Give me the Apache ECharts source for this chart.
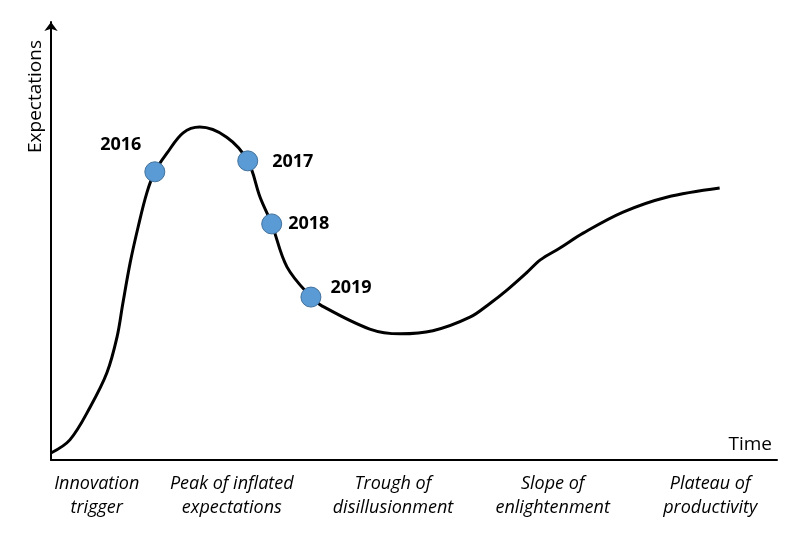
<!DOCTYPE html>
<html lang="en">
<head>
    <meta charset="utf-8">
    <title>Hype cycle</title>
    <script src="https://cdn.jsdelivr.net/npm/echarts@6/dist/echarts.min.js"></script>
    <style>
        html, body { margin: 0; padding: 0; background: #fff; }
        #chart { width: 800px; height: 545px; }
    </style>
</head>
<body>
<div id="chart"></div>
<script type="text/javascript">
  // curve (time 0-100, expectations 0-100)
  const curveX = [0, 2.6, 5.4, 7.7, 9.1, 9.9, 10.9, 12.0, 13.2, 14.3, 16.0, 18.2, 20.5, 24.2, 27.1, 28.8, 30.4, 32.5, 35.8, 37.3, 43.9, 48.1, 52.6, 57.7, 60.5, 62.8, 65.6, 67.4, 70.1, 73.3, 78.8, 84.8, 92.1];
  const curveY = [1.6, 4.6, 12.1, 19.9, 28.1, 35.8, 45.0, 53.2, 61.0, 65.8, 70.1, 74.7, 76.0, 73.7, 68.3, 60.0, 53.9, 44.1, 37.2, 35.2, 29.9, 28.8, 29.5, 32.6, 35.8, 38.8, 42.9, 45.7, 48.4, 51.8, 56.6, 60.0, 62.1];

  // yearly milestones on the curve
  const years = ['2016', '2017', '2018', '2019'];
  const yearX = [14.3, 27.1, 30.4, 35.8];
  const yearY = [65.8, 68.3, 53.9, 37.2];

  // phases along the time axis
  const phaseX = [6.3, 24.9, 47.1, 69.1, 90.8];
  const phaseNames = ['Innovation\ntrigger', 'Peak of inflated\nexpectations', 'Trough of\ndisillusionment', 'Slope of\nenlightenment', 'Plateau of\nproductivity'];

  const font = '"Open Sans", "Liberation Sans", sans-serif';

  // where each year label sits next to its dot
  const yearLabel = {
      '2016': { position: 'left', distance: 3, offset: [0, -27] },
      '2017': { position: 'right', distance: 14, offset: [0, 1] },
      '2018': { position: 'right', distance: 6, offset: [0, 0] },
      '2019': { position: 'right', distance: 9, offset: [0, -9] }
  };

  const chart = echarts.init(document.getElementById('chart'));

  chart.setOption({
      animation: false,
      backgroundColor: '#fff',
      grid: { left: 51, right: 23, top: 22, bottom: 85 },
      xAxis: {
          type: 'value',
          min: 0,
          max: 100,
          name: 'Time',
          nameLocation: 'end',
          nameGap: -5,
          nameTextStyle: {
              fontFamily: font, fontSize: 19, color: '#000',
              align: 'right', verticalAlign: 'bottom', padding: [0, 0, 6, 0]
          },
          axisLine: { lineStyle: { color: '#000', width: 2 } },
          axisTick: { show: false },
          splitLine: { show: false },
          axisLabel: {
              customValues: phaseX,
              formatter: v => phaseNames[phaseX.indexOf(v)],
              fontFamily: font,
              fontStyle: 'italic',
              fontSize: 18,
              lineHeight: 24,
              color: '#000',
              margin: 12
          }
      },
      yAxis: {
          type: 'value',
          min: 0,
          max: 100,
          name: 'Expectations',
          nameLocation: 'end',
          nameRotate: 90,
          nameGap: -18,
          nameTextStyle: {
              fontFamily: font, fontSize: 19, color: '#000',
              align: 'right', verticalAlign: 'bottom', padding: [0, 0, 6, 0]
          },
          axisLine: {
              show: true,
              symbol: ['none', 'arrow'],
              symbolSize: [10, 9],
              lineStyle: { color: '#000', width: 2 }
          },
          axisTick: { show: false },
          axisLabel: { show: false },
          splitLine: { show: false }
      },
      series: [
          {
              type: 'line',
              data: curveX.map((x, i) => [x, curveY[i]]),
              smooth: 0.35,
              showSymbol: false,
              lineStyle: { color: '#000', width: 3 },
              z: 2
          },
          {
              type: 'scatter',
              data: years.map((y, i) => ({
                  name: y,
                  value: [yearX[i], yearY[i]],
                  label: yearLabel[y]
              })),
              symbolSize: 20,
              itemStyle: { color: '#5B9BD5', borderColor: '#41719C', borderWidth: 1, opacity: 1 },
              label: {
                  show: true,
                  formatter: p => p.name,
                  fontFamily: font,
                  fontWeight: 'bold',
                  fontSize: 18,
                  color: '#000'
              },
              z: 3
          }
      ]
  });
</script>
</body>
</html>
